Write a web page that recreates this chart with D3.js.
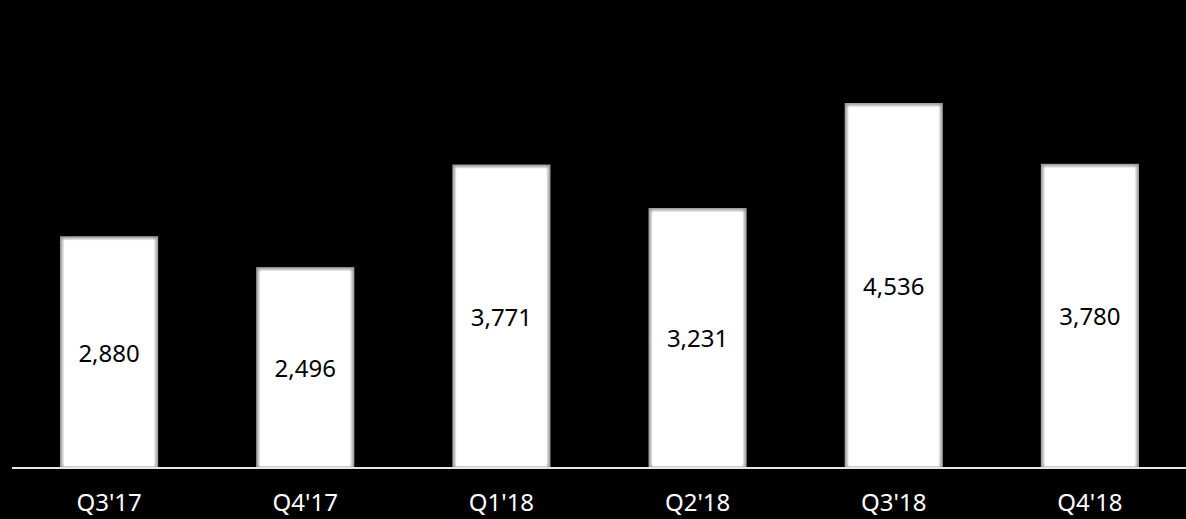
<!DOCTYPE html>
<html>
<head>
<meta charset="utf-8">
<script src="https://cdn.jsdelivr.net/npm/d3@7"></script>
<style>
  html, body { margin: 0; padding: 0; background: #000; }
  svg { display: block; }
</style>
</head>
<body>
<svg id="chart" width="1186" height="519"></svg>
<script>
const categories = ["Q3'17", "Q4'17", "Q1'18", "Q2'18", "Q3'18", "Q4'18"];
const values = [2880, 2496, 3771, 3231, 4536, 3780];
const valueLabels = ["2,880", "2,496", "3,771", "3,231", "4,536", "3,780"];

const W = 1186, H = 519;
const svg = d3.select("#chart");
svg.append("rect").attr("width", W).attr("height", H).attr("fill", "#000");

const defs = svg.append("defs");
const f = defs.append("filter").attr("id", "soft").attr("x", "-10%").attr("y", "-10%").attr("width", "120%").attr("height", "120%");
f.append("feGaussianBlur").attr("stdDeviation", 1.6);

const baseY = 468;
const x = d3.scaleBand().domain(categories).range([11, 1188]).paddingInner(0.5).paddingOuter(0.25);
const y = d3.scaleLinear().domain([0, 4536]).range([baseY, 103]);

const g = svg.append("g");
const bars = g.selectAll("g.bar").data(categories).enter().append("g").attr("class", "bar");

bars.append("rect")
  .attr("x", d => x(d))
  .attr("y", (d, i) => y(values[i]))
  .attr("width", x.bandwidth())
  .attr("height", (d, i) => baseY - y(values[i]))
  .attr("fill", "#9a9a9a");

bars.append("rect")
  .attr("x", d => x(d) + 2.5)
  .attr("y", (d, i) => y(values[i]) + 2.5)
  .attr("width", x.bandwidth() - 5)
  .attr("height", (d, i) => baseY - y(values[i]) - 4)
  .attr("fill", "#fff")
  .attr("filter", "url(#soft)");

bars.append("rect")
  .attr("x", d => x(d) + 4)
  .attr("y", (d, i) => y(values[i]) + 4)
  .attr("width", x.bandwidth() - 8)
  .attr("height", (d, i) => baseY - y(values[i]) - 6)
  .attr("fill", "#fff");

bars.append("text")
  .attr("x", d => x(d) + x.bandwidth() / 2)
  .attr("y", (d, i) => (y(values[i]) + baseY) / 2 + 3)
  .attr("text-anchor", "middle")
  .attr("dominant-baseline", "middle")
  .attr("font-family", "'Noto Sans', sans-serif")
  .attr("font-size", 24)
  .attr("fill", "#000")
  .text((d, i) => valueLabels[i]);

// axis
const axis = d3.axisBottom(x).tickSize(0).tickPadding(26);
const ax = svg.append("g").attr("transform", `translate(0,${baseY})`).call(axis);
ax.select(".domain").attr("stroke", "#e6e6e6").attr("stroke-width", 2).attr("d", `M12,0H1186`);
ax.selectAll("text")
  .attr("fill", "#fff")
  .attr("font-family", "'Noto Sans', sans-serif")
  .attr("font-size", 24);
</script>
</body>
</html>
